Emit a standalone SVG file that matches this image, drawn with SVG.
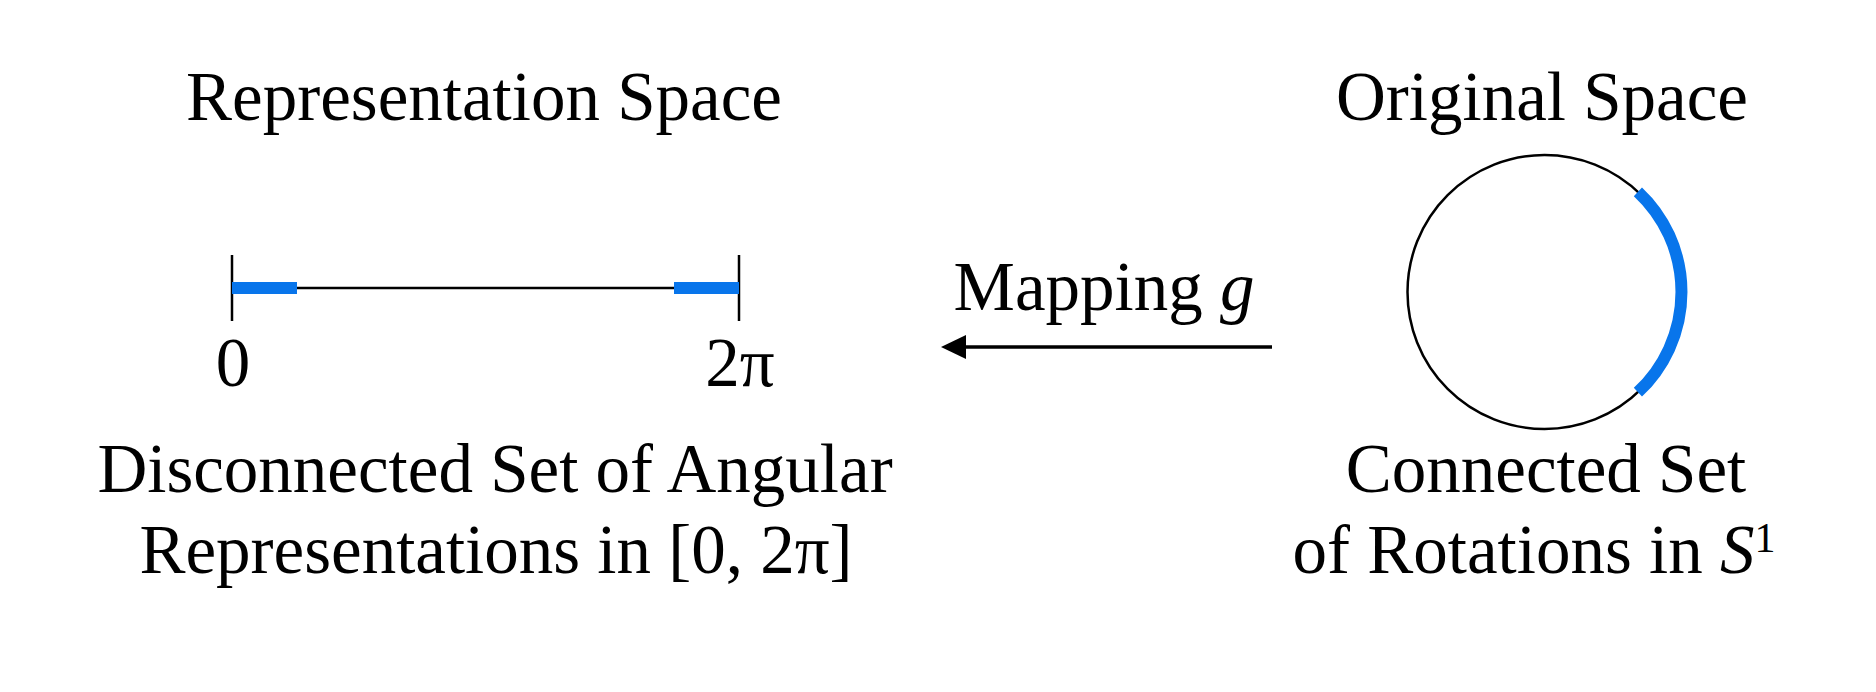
<svg xmlns="http://www.w3.org/2000/svg" width="1876" height="692" viewBox="0 0 1876 692">
<style>
text{font-family:"Liberation Serif","Times New Roman",serif;font-size:69px;fill:#000;text-anchor:middle}
.thin{stroke:#000;stroke-width:2.5;fill:none}
.blue{stroke:#0875EB;stroke-width:12;fill:none;stroke-linecap:butt}
</style>
<rect width="1876" height="692" fill="#fff"/>
<g id="representation-space">
<text x="484" y="120">Representation Space</text>
<line class="thin" x1="232" y1="288" x2="739" y2="288"/>
<line class="thin" x1="232" y1="255" x2="232" y2="321"/>
<line class="thin" x1="739" y1="255" x2="739" y2="321"/>
<line class="blue" x1="232" y1="288" x2="297" y2="288"/>
<line class="blue" x1="674" y1="288" x2="739" y2="288"/>
<text x="233" y="386">0</text>
<text x="740" y="386">2π</text>
<text x="495" y="492">Disconnected Set of Angular</text>
<text x="496" y="573">Representations in [0, 2π]</text>
</g>
<g id="original-space">
<text x="1542" y="120">Original Space</text>
<circle class="thin" cx="1544.5" cy="292" r="137"/>
<path class="blue" d="M1637.9,191.8 A137,137 0 0 1 1637.9,392.2"/>
<text x="1546" y="492">Connected Set</text>
<text x="1534" y="573">of Rotations in <tspan font-style="italic">S</tspan><tspan font-size="42" dy="-21">1</tspan></text>
</g>
<g id="connectors">
<line x1="1272" y1="347" x2="965" y2="347" stroke="#000" stroke-width="3.5"/>
<polygon points="941,347 966,335 966,359" fill="#000"/>
<text x="1104" y="310">Mapping <tspan font-style="italic">g</tspan></text>
</g>
</svg>
